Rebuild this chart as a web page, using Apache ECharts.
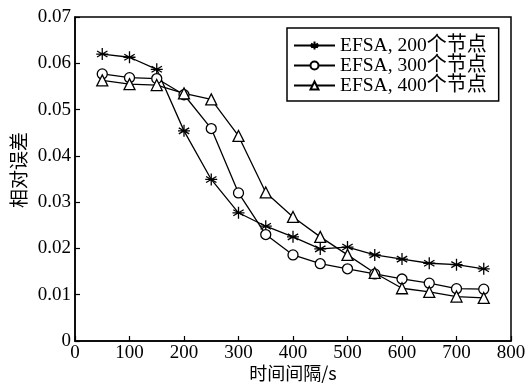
<!DOCTYPE html>
<html><head><meta charset="utf-8">
<script src="https://cdn.jsdelivr.net/npm/echarts@6/dist/echarts.min.js"></script>
<style>html,body{margin:0;padding:0;background:#fff}#c{width:528px;height:383px}</style>
</head><body><div id="c"></div>
<script>
var xValues = [50,100,150,200,250,300,350,400,450,500,550,600,650,700,750];
var names = ['EFSA, 200个节点','EFSA, 300个节点','EFSA, 400个节点'];
var s200 = [0.0620,0.0613,0.0587,0.0454,0.0349,0.0277,0.0248,0.0225,0.0199,0.0203,0.0186,0.0177,0.0168,0.0165,0.0156];
var s300 = [0.0577,0.0569,0.0567,0.0532,0.0459,0.0320,0.0230,0.0186,0.0167,0.0156,0.0145,0.0134,0.0125,0.0113,0.0112];
var s400 = [0.0563,0.0555,0.0553,0.0535,0.0522,0.0443,0.0321,0.0268,0.0225,0.0186,0.0147,0.0114,0.0106,0.0096,0.0093];
var xTicks = [0,100,200,300,400,500,600,700,800];
var yTicks = [0,0.01,0.02,0.03,0.04,0.05,0.06,0.07];

var serif = 'Liberation Serif, Noto Sans CJK SC, serif';
var cjk = 'Noto Sans CJK SC, sans-serif';
var star = 'path://M0,-10L0,10M-8.66,-5L8.66,5M-8.66,5L8.66,-5M-10,0L10,0';
function pairs(v){ return xValues.map(function(x,i){return [x,v[i]];}); }
function ser(name, data, symbol, size){
  return {
    name: name, type: 'line', data: pairs(data), symbol: symbol, symbolSize: size,
    showAllSymbol: true,
    lineStyle: {color:'#000', width:1.3},
    itemStyle: {color:'#fff', borderColor:'#000', borderWidth:1.3},
    emphasis: {disabled:true}, animation:false
  };
}
var chart = echarts.init(document.getElementById('c'));
chart.setOption({
  backgroundColor:'#fff',
  animation:false,
  grid:{left:75,right:17,top:17,bottom:42,containLabel:false,outerBoundsMode:'none',show:true,borderColor:'#000',borderWidth:1.5,backgroundColor:'transparent'},
  legend:{
    left:287, top:28, orient:'vertical', itemWidth:41, itemHeight:10, itemGap:-5,
    padding:[5,12,3,6],
    borderColor:'#000', borderWidth:1.5, backgroundColor:'#fff',
    formatter:function(n){var i=n.indexOf('个'); return '{a|'+n.slice(0,i)+'}{b|'+n.slice(i)+'}';},
    textStyle:{color:'#000', fontFamily:serif, fontSize:19.5, lineHeight:20,
      rich:{a:{fontFamily:'Liberation Serif',fontSize:19.5,color:'#000',lineHeight:20},
            b:{fontFamily:'Noto Sans CJK SC',fontSize:20,color:'#000',lineHeight:20,padding:[0,0,5,0]}}},
    data:names
  },
  xAxis:{
    type:'value', min:0, max:800, interval:100,
    name:'时间间隔/s', nameLocation:'middle', nameGap:23, nameMoveOverlap:false,
    nameTextStyle:{fontFamily:cjk, fontSize:18, color:'#000'},
    axisLine:{lineStyle:{color:'#000',width:1.5}},
    axisTick:{inside:true,length:5,lineStyle:{color:'#000',width:1.2}},
    axisLabel:{fontFamily:serif,fontSize:19,color:'#000',margin:3,
      formatter:function(v){return xTicks.indexOf(v)>=0?String(v):'';}},
    splitLine:{show:false}
  },
  yAxis:{
    type:'value', min:0, max:0.07, interval:0.01,
    name:'相对误差', nameLocation:'middle', nameGap:47, nameMoveOverlap:false,
    nameTextStyle:{fontFamily:cjk, fontSize:19, color:'#000', padding:[0,0,0,18]},
    axisLine:{lineStyle:{color:'#000',width:1.5}},
    axisTick:{inside:true,length:5,lineStyle:{color:'#000',width:1.2}},
    axisLabel:{fontFamily:serif,fontSize:19,color:'#000',margin:4,
      formatter:function(v){var r=Math.round(v*100)/100; for(var i=0;i<yTicks.length;i++){if(Math.abs(yTicks[i]-r)<1e-9){return r===0?'0':r.toFixed(2);}} return '';}},
    splitLine:{show:false}
  },
  series:[
    ser(names[0], s200, star, 12),
    ser(names[1], s300, 'circle', 10),
    ser(names[2], s400, 'triangle', 11)
  ]
});
</script></body></html>
